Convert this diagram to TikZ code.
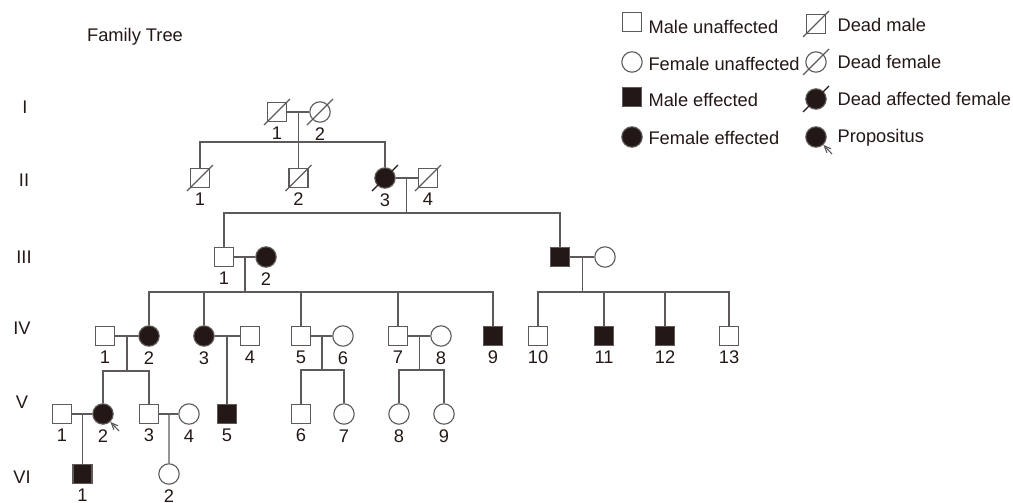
\documentclass[tikz,border=0pt]{standalone}
\usepackage{fontspec}
\setmainfont{Liberation Sans}
\usetikzlibrary{calc}
\usetikzlibrary{arrows}
\definecolor{ink}{RGB}{35,24,21}
\definecolor{lines}{RGB}{95,90,90}
\newcommand{\deadslash}[2][lines]{\draw[kin, draw=#1] ([shift={(-13,13)}]#2.center) -- ([shift={(13,-13)}]#2.center);}

\begin{document}
\begin{tikzpicture}[x=0.025cm, y=-0.025cm, line width=0.8pt,
    every node/.style={text=ink, font=\fontsize{13}{15}\selectfont},
    kin/.style={draw=lines},
    male/.style={kin, rectangle, minimum size=13.5pt, inner sep=0pt, fill=white},
    female/.style={kin, circle, minimum size=14.5pt, inner sep=0pt, fill=white},
    affected/.style={fill=ink},
    every label/.style={inner sep=1pt}, label distance=2pt,
    >=angle 45]
\useasboundingbox (0,0) rectangle (1013,502);

\node (title) at (135,37) {Family Tree};

% Generation numbers
\node (gI) at (25,107) {I};
\node (gII) at (24,180) {II};
\node (gIII) at (24,257) {III};
\node (gIV) at (22,328) {IV};
\node (gV) at (22,402) {V};
\node (gVI) at (22,477) {VI};

% Generation I
\node[male, label=below:1] (I1) at (277,112) {};
\node[female, label=below:2] (I2) at (320,112) {};
\deadslash{I1} \deadslash{I2}

% Generation II
\node[male, label=below:1] (II1) at (200,178) {};
\node[male, label=below:2] (II2) at (298.5,178) {};
\node[female, affected, label=below:3] (II3) at (385,178) {};
\node[male, label=below:4] (II4) at (428,178) {};
\deadslash{II1} \deadslash{II2} \deadslash[ink]{II3} \deadslash{II4}

% Generation III
\node[male, label=below:1] (III1) at (224,257) {};
\node[female, affected, label=below:2] (III2) at (266,257) {};
\node[male, affected] (III3) at (560,257) {};
\node[female] (III4) at (605,257) {};

% Generation IV
\node[male, label=below:1] (IV1) at (105,336) {};
\node[female, affected, label=below:2] (IV2) at (149,336) {};
\node[female, affected, label=below:3] (IV3) at (204,336) {};
\node[male, label=below:4] (IV4) at (250,336) {};
\node[male, label=below:5] (IV5) at (301,336) {};
\node[female, label=below:6] (IV6) at (343,336) {};
\node[male, label=below:7] (IV7) at (398,336) {};
\node[female, label=below:8] (IV8) at (441,336) {};
\node[male, affected, label=below:9] (IV9) at (493,336) {};
\node[male, label=below:10] (IV10) at (538,336) {};
\node[male, affected, label=below:11] (IV11) at (604,336) {};
\node[male, affected, label=below:12] (IV12) at (665,336) {};
\node[male, label=below:13] (IV13) at (729,336) {};

% Generation V
\node[male, label=below:1] (V1) at (62,414) {};
\node[female, affected, label=below:2] (V2) at (103,414) {};
\node[male, label=below:3] (V3) at (149,414) {};
\node[female, label=below:4] (V4) at (189,414) {};
\node[male, affected, label=below:5] (V5) at (227,414) {};
\node[male, label=below:6] (V6) at (301,414) {};
\node[female, label=below:7] (V7) at (344,414) {};
\node[female, label=below:8] (V8) at (399,414) {};
\node[female, label=below:9] (V9) at (444,414) {};

% Generation VI
\node[male, affected, label=below:1] (VI1) at (82.5,474) {};
\node[female, label=below:2] (VI2) at (169,474) {};

% Marriages
\draw[kin] (I1) -- (I2);
\draw[kin] (II3) -- (II4);
\draw[kin] (III1) -- (III2);
\draw[kin] (III3) -- (III4);
\draw[kin] (IV1) -- (IV2);
\draw[kin] (IV3) -- (IV4);
\draw[kin] (IV5) -- (IV6);
\draw[kin] (IV7) -- (IV8);
\draw[kin] (V1) -- (V2);
\draw[kin] (V3) -- (V4);

% Couple midpoints and sibship lines
\coordinate (mI) at ($(I1)!.5!(I2)$);
\coordinate (sI) at ($(mI)+(0,30)$);
\coordinate (mII) at ($(II3)!.5!(II4)$);
\coordinate (sII) at ($(mII)+(0,35)$);
\coordinate (mIIIa) at ($(III1)!.5!(III2)$);
\coordinate (sIIIa) at ($(mIIIa)+(0,35)$);
\coordinate (mIIIb) at ($(III3)!.5!(III4)$);
\coordinate (sIIIb) at ($(mIIIb)+(0,35)$);
\coordinate (mIVa) at ($(IV1)!.5!(IV2)$);
\coordinate (sIVa) at ($(mIVa)+(0,35)$);
\coordinate (mIVb) at ($(IV3)!.5!(IV4)$);
\coordinate (mIVc) at ($(IV5)!.5!(IV6)$);
\coordinate (sIVc) at ($(mIVc)+(0,34)$);
\coordinate (mIVd) at ($(IV7)!.5!(IV8)$);
\coordinate (sIVd) at ($(mIVd)+(0,34)$);
\coordinate (mVa) at ($(V1)!.5!(V2)$);
\coordinate (mVb) at ($(V3)!.5!(V4)$);

% Descent lines
\draw[kin] (mI) -- (II2);
\draw[kin] (II1) |- (sI) -| (II3);
\draw[kin] (mII) -- (sII);
\draw[kin] (III1) |- (sII) -| (III3);
\draw[kin] (mIIIa) -- (sIIIa);
\draw[kin] (IV2) |- (sIIIa) -| (IV9);
\draw[kin] (IV3) -- (IV3 |- sIIIa);
\draw[kin] (IV5) -- (IV5 |- sIIIa);
\draw[kin] (IV7) -- (IV7 |- sIIIa);
\draw[kin] (mIIIb) -- (sIIIb);
\draw[kin] (IV10) |- (sIIIb) -| (IV13);
\draw[kin] (IV11) -- (IV11 |- sIIIb);
\draw[kin] (IV12) -- (IV12 |- sIIIb);
\draw[kin] (mIVa) -- (sIVa);
\draw[kin] (V2) |- (sIVa) -| (V3);
\draw[kin] (mIVb) -- (V5);
\draw[kin] (mIVc) -- (sIVc);
\draw[kin] (V6) |- (sIVc) -| (V7);
\draw[kin] (mIVd) -- (sIVd);
\draw[kin] (V8) |- (sIVd) -| (V9);
\draw[kin] (mVa) -- (VI1);
\draw[kin] (mVb) -- (VI2);

% Propositus
\coordinate (pV2) at ([shift={(16,17)}]V2.center);
\draw[kin, ->] (pV2) -- (V2);

% Legend
\node[male] (lgMU) at (632,22) {};
\node[female] (lgFU) at (632,62) {};
\node[male, affected] (lgMA) at (632,97) {};
\node[female, affected] (lgFA) at (632,137) {};
\node[male] (lgDM) at (816,24) {};
\node[female] (lgDF) at (816,62) {};
\node[female, affected] (lgDA) at (816,99) {};
\node[female, affected] (lgPr) at (816,137) {};
\deadslash{lgDM} \deadslash{lgDF} \deadslash[ink]{lgDA}
\coordinate (pLg) at ([shift={(16,17)}]lgPr.center);
\draw[kin, ->] (pLg) -- (lgPr);

\node[anchor=base west, inner sep=0pt] (tMU) at (648,33) {Male unaffected};
\node[anchor=base west, inner sep=0pt] (tFU) at (648,70) {Female unaffected};
\node[anchor=base west, inner sep=0pt] (tMA) at (648,106) {Male effected};
\node[anchor=base west, inner sep=0pt] (tFA) at (648,144) {Female effected};
\node[anchor=base west, inner sep=0pt] (tDM) at (837,31) {Dead male};
\node[anchor=base west, inner sep=0pt] (tDF) at (837,68) {Dead female};
\node[anchor=base west, inner sep=0pt] (tDA) at (837,105) {Dead affected female};
\node[anchor=base west, inner sep=0pt] (tPr) at (837,142) {Propositus};
\end{tikzpicture}
\end{document}
